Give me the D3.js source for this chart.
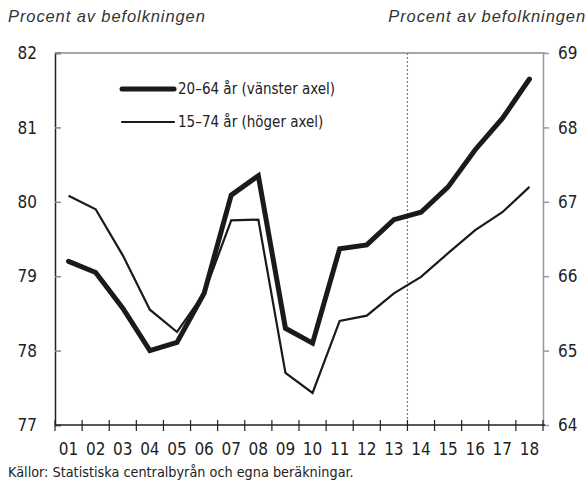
<!DOCTYPE html>
<html>
<head>
<meta charset="utf-8">
<script src="https://cdn.jsdelivr.net/npm/d3@7"></script>
<style>
  body { margin: 0; background: #fff; }
  .narrow { font-family: 'DejaVu Sans Condensed', 'Liberation Sans Narrow', sans-serif; font-stretch: condensed; }
</style>
</head>
<body>
<div id="chart"></div>
<script>
const years = ['01', '02', '03', '04', '05', '06', '07', '08', '09', '10', '11', '12', '13', '14', '15', '16', '17', '18']
const age2064 = [79.2, 79.05, 78.57, 78.0, 78.11, 78.77, 80.09, 80.35, 78.3, 78.1, 79.37, 79.42, 79.76, 79.86, 80.2, 80.7, 81.12, 81.65]
const age1574 = [67.08, 66.9, 66.28, 65.55, 65.25, 65.77, 66.75, 66.76, 64.7, 64.43, 65.4, 65.47, 65.77, 65.99, 66.31, 66.62, 66.86, 67.2]
const leftTicks = [77, 78, 79, 80, 81, 82]
const rightTicks = [64, 65, 66, 67, 68, 69]
const forecastStart = '14'

const width = 588
const height = 481
const margin = { top: 53, left: 55, right: 45, bottom: 56 }
const innerW = width - margin.left - margin.right
const innerH = height - margin.top - margin.bottom

const svg = d3
  .select('#chart')
  .append('svg')
  .attr('width', width)
  .attr('height', height)

const g = svg
  .append('g')
  .attr('transform', 'translate(' + margin.left + ',' + margin.top + ')')

const xScale = d3.scaleBand().domain(years).range([0, innerW])
const yLeft = d3.scaleLinear().domain([77, 82]).range([innerH, 0])
const yRight = d3.scaleLinear().domain([64, 69]).range([innerH, 0])

const xMid = d => xScale(d) + xScale.bandwidth() / 2

// top frame line
g.append('line')
  .attr('x1', 0)
  .attr('x2', innerW + 2)
  .attr('y1', 0)
  .attr('y2', 0)
  .attr('stroke', '#8a8a8a')
  .attr('stroke-width', 1.5)

// forecast divider
g.append('line')
  .attr('x1', xScale(forecastStart))
  .attr('x2', xScale(forecastStart))
  .attr('y1', 0)
  .attr('y2', innerH)
  .attr('stroke', '#777')
  .attr('stroke-width', 1.2)
  .attr('stroke-dasharray', '2,2')

// left axis
const leftAxis = g.append('g').call(
  d3.axisRight(yLeft).tickValues(leftTicks).tickSize(6).tickFormat('')
)
leftAxis.select('.domain').attr('stroke', '#222').attr('stroke-width', 1.5)
leftAxis.selectAll('.tick line').attr('stroke', '#888').attr('stroke-width', 1.5)

g.selectAll('.left-label')
  .data(leftTicks)
  .enter()
  .append('text')
  .attr('class', 'left-label narrow')
  .attr('x', -18)
  .attr('y', d => yLeft(d))
  .attr('dy', '0.36em')
  .attr('text-anchor', 'end')
  .attr('font-size', 17)
  .attr('fill', '#222')
  .text(d => d)

// right axis
const rightAxis = g
  .append('g')
  .attr('transform', 'translate(' + innerW + ',0)')
  .call(d3.axisRight(yRight).tickValues(rightTicks).tickSizeInner(6).tickSizeOuter(0).tickFormat(''))
rightAxis.select('.domain').attr('stroke', '#999').attr('stroke-width', 1.5)
rightAxis.selectAll('.tick line').attr('stroke', '#999').attr('stroke-width', 1.5)

g.selectAll('.right-label')
  .data(rightTicks)
  .enter()
  .append('text')
  .attr('class', 'right-label narrow')
  .attr('x', innerW + 15)
  .attr('y', d => yRight(d))
  .attr('dy', '0.36em')
  .attr('font-size', 17)
  .attr('fill', '#222')
  .text(d => d)

// bottom axis
const bottomAxis = g
  .append('g')
  .attr('transform', 'translate(0,' + innerH + ')')
bottomAxis
  .append('line')
  .attr('x1', 0)
  .attr('x2', innerW + 2)
  .attr('stroke', '#222')
  .attr('stroke-width', 1.5)
bottomAxis
  .selectAll('.xtick')
  .data(years.concat(['end']))
  .enter()
  .append('line')
  .attr('class', 'xtick')
  .attr('x1', d => (d === 'end' ? innerW : xScale(d)))
  .attr('x2', d => (d === 'end' ? innerW : xScale(d)))
  .attr('y1', -5)
  .attr('y2', 6)
  .attr('stroke', '#222')
  .attr('stroke-width', 1.2)
bottomAxis
  .selectAll('.xlabel')
  .data(years)
  .enter()
  .append('text')
  .attr('class', 'xlabel narrow')
  .attr('x', d => xMid(d))
  .attr('y', 30)
  .attr('text-anchor', 'middle')
  .attr('font-size', 17)
  .attr('fill', '#222')
  .text(d => d)

// lines
const lineLeft = d3
  .line()
  .x((d, i) => xMid(years[i]))
  .y(d => yLeft(d))
const lineRight = d3
  .line()
  .x((d, i) => xMid(years[i]))
  .y(d => yRight(d))

g.append('path')
  .datum(age1574)
  .attr('d', lineRight)
  .attr('fill', 'none')
  .attr('stroke', '#1a1a1a')
  .attr('stroke-width', 2.2)
  .attr('stroke-linejoin', 'miter')

g.append('path')
  .datum(age2064)
  .attr('d', lineLeft)
  .attr('fill', 'none')
  .attr('stroke', '#1a1a1a')
  .attr('stroke-width', 5)
  .attr('stroke-linecap', 'round')
  .attr('stroke-linejoin', 'miter')

// legend
const legend = [
  { label: '20–64 år (vänster axel)', w: 5, y: 89 },
  { label: '15–74 år (höger axel)', w: 2.2, y: 122 }
]
const leg = svg.append('g')
leg
  .selectAll('line')
  .data(legend)
  .enter()
  .append('line')
  .attr('x1', 122)
  .attr('x2', 174)
  .attr('y1', d => d.y)
  .attr('y2', d => d.y)
  .attr('stroke', '#1a1a1a')
  .attr('stroke-width', d => d.w)
  .attr('stroke-linecap', 'round')
leg
  .selectAll('text')
  .data(legend)
  .enter()
  .append('text')
  .attr('class', 'narrow')
  .attr('x', 178)
  .attr('y', d => d.y)
  .attr('dy', '0.36em')
  .attr('font-size', 15)
  .attr('fill', '#222')
  .text(d => d.label)

// titles
svg
  .append('text')
  .attr('x', 8)
  .attr('y', 22)
  .attr('font-family', "'Liberation Sans', Arial, sans-serif")
  .attr('font-style', 'italic')
  .attr('font-size', 16.5)
  .attr('letter-spacing', 0.9)
  .attr('fill', '#333')
  .text('Procent av befolkningen')

svg
  .append('text')
  .attr('x', 586)
  .attr('y', 22)
  .attr('text-anchor', 'end')
  .attr('font-family', "'Liberation Sans', Arial, sans-serif")
  .attr('font-style', 'italic')
  .attr('font-size', 16.5)
  .attr('letter-spacing', 0.9)
  .attr('fill', '#333')
  .text('Procent av befolkningen')

svg
  .append('text')
  .attr('class', 'narrow')
  .attr('x', 8)
  .attr('y', 477)
  .attr('font-size', 14.3)
  .attr('fill', '#222')
  .text('Källor: Statistiska centralbyrån och egna beräkningar.')
</script>
</body>
</html>
